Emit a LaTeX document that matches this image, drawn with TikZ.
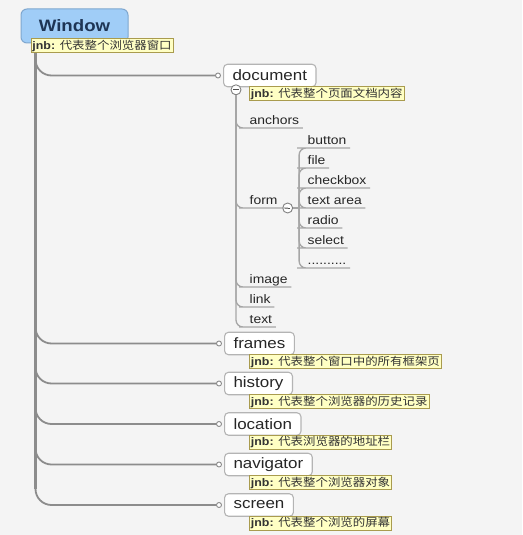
\documentclass[tikz,border=0pt]{standalone}
\usepackage{fontspec}
\setmainfont[FakeStretch=1.13]{Liberation Sans}
\newfontfamily\cjkfont[FakeStretch=1.13]{Noto Sans CJK SC}
\usetikzlibrary{positioning, calc}
\definecolor{mm-bg}{HTML}{F4F4F4}
\definecolor{mm-blue}{HTML}{A0CDF7}
\definecolor{mm-blueline}{HTML}{7FA7CF}
\definecolor{mm-ink}{HTML}{1E3555}
\definecolor{mm-line}{HTML}{8C8C8C}
\definecolor{mm-thin}{HTML}{A6A6A6}
\definecolor{mm-box}{HTML}{B4B4B4}
\definecolor{mm-note}{HTML}{FFFFC4}
\definecolor{mm-noteline}{HTML}{A99B4E}

\begin{document}
\begin{tikzpicture}[
    x=1pt, y=-1pt,
    rootbox/.style={rectangle, rounded corners=6pt, draw=mm-blueline, line width=1pt, fill=mm-blue, minimum width=107pt, minimum height=34pt, text=mm-ink, font=\fontsize{16.5}{19}\selectfont\bfseries},
    topic/.style={rectangle, rounded corners=4pt, draw=mm-box, line width=1.1pt, fill=white, minimum height=22.5pt, inner xsep=9pt, anchor=west, text=black!85, font=\fontsize{15}{18}\selectfont},
    leaf/.style={anchor=south west, inner xsep=3.5pt, inner ysep=1.5pt, text height=9pt, text depth=2pt, text=black!85, font=\fontsize{12.3}{14}\selectfont},
    note/.style={rectangle, draw=mm-noteline, line width=0.8pt, fill=mm-note, inner xsep=1.5pt, inner ysep=1pt, text height=9.5pt, text depth=2.5pt, text=black!80, font=\fontsize{11}{13}\selectfont},
    trunk/.style={draw=mm-line, line width=3pt},
    branch/.style={draw=mm-line, line width=1.8pt, rounded corners=16pt},
    subline/.style={draw=mm-thin, line width=1.3pt, rounded corners=7pt},
    ring/.style={circle, draw=mm-line, line width=0.9pt, fill=white, inner sep=0pt, minimum size=5pt},
    fold/.style={circle, draw=gray, line width=0.9pt, fill=white, inner sep=0pt, minimum size=10pt,
        path picture={\draw[line width=1pt, black!70] ([xshift=-2.6pt]path picture bounding box.center) -- ([xshift=2.6pt]path picture bounding box.center);}}
]
    \path[use as bounding box, fill=mm-bg] (0,0) rectangle (522,535);

    % Raiz
    \node[rootbox] (win) at (74.5,26) {Window};
    \node[note, below right=-5pt and 10pt of win.south west] (winnote) {\textbf{jnb:} \cjkfont 代表整个浏览器窗口};
    \coordinate (root) at ([xshift=5pt]winnote.south west);

    % Topicos principais
    \node[topic] (doc) at (223,75.5) {document};
    \node[note, below right=-1pt and 26pt of doc.south west] (docnote) {\textbf{jnb:} \cjkfont 代表整个页面文档内容};
    \node[fold] (docm) at ($(doc.south west)+(13,2.5)$) {};

    \node[topic] (frames) at (224,343.5) {frames};
    \node[note, below right=-1pt and 25pt of frames.south west] (framesnote) {\textbf{jnb:} \cjkfont 代表整个窗口中的所有框架页};
    \node[topic] (history) at (224,383.5) {history};
    \node[note, below right=-1pt and 25pt of history.south west] (historynote) {\textbf{jnb:} \cjkfont 代表整个浏览器的历史记录};
    \node[topic] (location) at (224,424) {location};
    \node[note, below right=-1pt and 25pt of location.south west] (locationnote) {\textbf{jnb:} \cjkfont 代表浏览器的地址栏};
    \node[topic] (navigator) at (224,464.5) {navigator};
    \node[note, below right=-1pt and 25pt of navigator.south west] (navigatornote) {\textbf{jnb:} \cjkfont 代表整个浏览器对象};
    \node[topic] (screen) at (224,505) {screen};
    \node[note, below right=-1pt and 25pt of screen.south west] (screennote) {\textbf{jnb:} \cjkfont 代表整个浏览的屏幕};

    % Filhos de document
    \node[leaf] (anchors) at (246,128) {anchors};
    \node[leaf] (form) at (246,208) {form};
    \node[fold, right=1pt of form.south east] (formm) {};
    \coordinate (formhub) at ([xshift=6pt]formm.east);
    \node[leaf] (image) at (246,287) {image};
    \node[leaf] (link) at (246,307) {link};
    \node[leaf] (txt) at (246,327) {text};

    % Filhos de form
    \node[leaf] (button) at (304,148) {button};
    \node[leaf] (file) at (304,168) {file};
    \node[leaf] (checkbox) at (304,188) {checkbox};
    \node[leaf] (textarea) at (304,208) {text area};
    \node[leaf] (radio) at (304,228) {radio};
    \node[leaf] (select) at (304,248) {select};
    \node[leaf] (more) at (304,268) {..........};

    % Ligacoes
    \draw[trunk] (root) -- ($(root |- screen.west)+(0,-16)$);
    \draw[branch] (root) |- ([xshift=-5pt]doc.west) node[ring] {};
    \draw[branch] (root) |- ([xshift=-5pt]frames.west) node[ring] {};
    \draw[branch] (root) |- ([xshift=-5pt]history.west) node[ring] {};
    \draw[branch] (root) |- ([xshift=-5pt]location.west) node[ring] {};
    \draw[branch] (root) |- ([xshift=-5pt]navigator.west) node[ring] {};
    \draw[branch] (root) |- ([xshift=-5pt]screen.west) node[ring] {};

    \draw[subline] (docm.south) |- (anchors.south west) -- (anchors.south east);
    \draw[subline] (docm.south) |- (form.south west) -- (form.south east) -- (formm.west);
    \draw[subline] (docm.south) |- (image.south west) -- (image.south east);
    \draw[subline] (docm.south) |- (link.south west) -- (link.south east);
    \draw[subline] (docm.south) |- (txt.south west) -- (txt.south east);

    \draw[subline] (formm.east) -- (formhub);
    \draw[subline] (formhub) |- (button.south west) -- (button.south east);
    \draw[subline] (formhub) |- (file.south west) -- (file.south east);
    \draw[subline] (formhub) |- (checkbox.south west) -- (checkbox.south east);
    \draw[subline] (formhub) |- (textarea.south west) -- (textarea.south east);
    \draw[subline] (formhub) |- (radio.south west) -- (radio.south east);
    \draw[subline] (formhub) |- (select.south west) -- (select.south east);
    \draw[subline] (formhub) |- (more.south west) -- (more.south east);
\end{tikzpicture}
\end{document}
